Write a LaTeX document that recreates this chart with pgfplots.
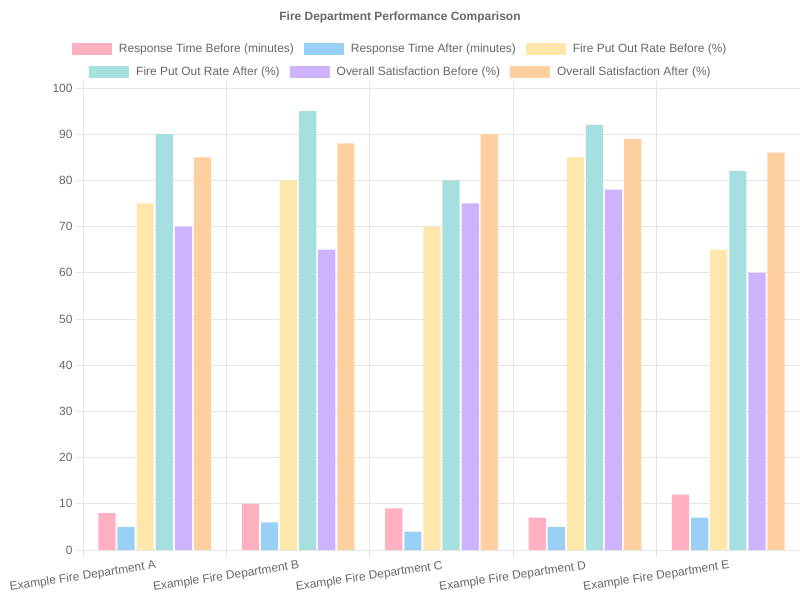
\documentclass[border=0pt]{standalone}
\usepackage{pgfplots}
\pgfplotsset{compat=1.18}
\usepackage{fontspec}
\setmainfont{Liberation Sans}
\definecolor{c1}{HTML}{FFB1C1}
\definecolor{c2}{HTML}{9AD0F5}
\definecolor{c3}{HTML}{FFE6AA}
\definecolor{c4}{HTML}{A5DFDF}
\definecolor{c5}{HTML}{CCB2FF}
\definecolor{c6}{HTML}{FFCF9F}
\definecolor{txt}{HTML}{666666}
\definecolor{gridc}{HTML}{E5E5E5}
\pgfplotsset{sw/.style={legend image code/.code={\fill[##1] (0bp,-6bp) rectangle (40bp,6bp);}}}
\begin{document}
\begin{tikzpicture}
\path[use as bounding box] (-83bp,-50bp) rectangle (717bp,550bp);
\begin{axis}[
 at={(0,0)}, anchor=south west, scale only axis, width=717bp, height=462bp,
 xmin=-0.5, xmax=4.5, ymin=0, ymax=100,
 ytick={0,10,...,100},
 xtick={-0.5,0.5,...,4.5}, xticklabels={},
 extra x ticks={0,1,2,3,4},
 extra x tick labels={Example Fire Department A,Example Fire Department B,Example Fire Department C,Example Fire Department D,Example Fire Department E},
 extra x tick style={grid=none, tick style={draw=none}, tick label style={rotate=8.5, anchor=north east, inner sep=0pt, yshift=-3bp, xshift=0bp}},
 grid=major, grid style={gridc, line width=0.8bp},
 axis line style={gridc, line width=0.8bp},
 tick align=outside, major tick length=7bp, tick style={gridc, line width=0.8bp},
 /pgf/number format/assume math mode=true,
 tick label style={font=\fontsize{12}{14}\selectfont, text=txt},
 ybar=1.9bp, bar width=17.2bp,
 legend columns=3,
 legend style={at={(0.441,1)}, anchor=center, yshift=39bp, draw=none, fill=none, inner sep=0pt,
   nodes={inner sep=0pt, font=\fontsize{12}{14}\selectfont, text=txt},
   /tikz/every odd column/.append style={column sep=7bp},
   /tikz/every even column/.append style={column sep=10bp}},
 legend cell align=left,
]
\addplot[fill=c1, draw=none, sw] coordinates {(0,8) (1,10) (2,9) (3,7) (4,12)};
\addlegendentry{Response Time Before (minutes)}
\addplot[fill=c2, draw=none, sw] coordinates {(0,5) (1,6) (2,4) (3,5) (4,7)};
\addlegendentry{Response Time After (minutes)}
\addplot[fill=c3, draw=none, sw] coordinates {(0,75) (1,80) (2,70) (3,85) (4,65)};
\addlegendentry{Fire Put Out Rate Before (\%)}
\addplot[fill=c4, draw=none, sw] coordinates {(0,90) (1,95) (2,80) (3,92) (4,82)};
\addplot[fill=c5, draw=none, sw] coordinates {(0,70) (1,65) (2,75) (3,78) (4,60)};
\addplot[fill=c6, draw=none, sw] coordinates {(0,85) (1,88) (2,90) (3,89) (4,86)};
\end{axis}
\begin{axis}[
 at={(0,0)}, anchor=south west, scale only axis, width=717bp, height=462bp,
 xmin=-0.5, xmax=4.5, ymin=0, ymax=100, hide axis,
 legend columns=3,
 legend style={at={(0.442,1)}, anchor=center, yshift=16bp, draw=none, fill=none, inner sep=0pt,
   nodes={inner sep=0pt, font=\fontsize{12}{14}\selectfont, text=txt},
   /tikz/every odd column/.append style={column sep=7bp},
   /tikz/every even column/.append style={column sep=10bp}},
 legend cell align=left,
]
\addlegendimage{fill=c4, draw=none, sw}
\addlegendentry{Fire Put Out Rate After (\%)}
\addlegendimage{fill=c5, draw=none, sw}
\addlegendentry{Overall Satisfaction Before (\%)}
\addlegendimage{fill=c6, draw=none, sw}
\addlegendentry{Overall Satisfaction After (\%)}
\end{axis}
\node[font=\bfseries\fontsize{12}{14}\selectfont, text=txt] at (317bp,533bp) {Fire Department Performance Comparison};
\end{tikzpicture}
\end{document}
